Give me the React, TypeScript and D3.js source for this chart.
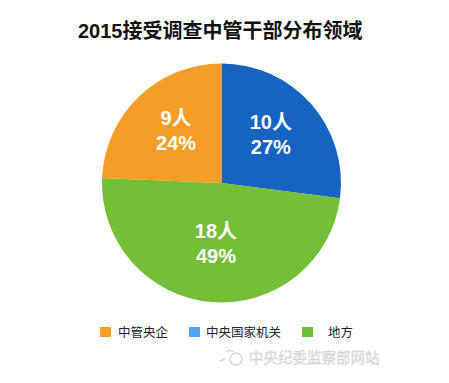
import React from "react";
import * as d3 from "d3";

const categories = ["中央国家机关", "地方", "中管央企"];
const counts = [10, 18, 9];
const percents = ["27%", "49%", "24%"];
const sliceColors = ["#1663C2", "#75BE38", "#F49D27"];
const legendOrder = ["中管央企", "中央国家机关", "地方"];
const legendColors = ["#F49D27", "#4FA6F6", "#6FBF35"];
const title = "2015接受调查中管干部分布领域";
const watermark = "中央纪委监察部网站";

export default function App() {
  const W = 449, H = 383;
  const cx = 221.5, cy = 183, r = 119.5;
  const pie = d3.pie<number>().sort(null).value((d) => d);
  const arcs = pie(counts);
  const arc = d3.arc<d3.PieArcDatum<number>>().innerRadius(0).outerRadius(r);
  const labelArc = d3.arc<d3.PieArcDatum<number>>().innerRadius(r * 0.55).outerRadius(r * 0.55);
  const font = "'Liberation Sans', Arial, 'Noto Sans CJK SC', sans-serif";
  const legendX = [100, 189, 302];
  const legendTextX = [118, 206, 328];
  return (
    <div style={{ position: "absolute", left: 0, top: 0 }}>
      <svg width={W} height={H} style={{ display: "block", background: "#fff" }}>
        <text x={78} y={38} fontFamily={font} fontWeight="bold" fontSize={20} fill="#111">
          {title}
        </text>
        <g transform={`translate(${cx},${cy})`}>
          {arcs.map((a, i) => (
            <path key={i} d={arc(a) || ""} fill={sliceColors[i]} />
          ))}
          {arcs.map((a, i) => {
            const [lx, ly0] = labelArc.centroid(a);
            const ly = ly0 - 5;
            return (
              <g key={"l" + i} fontFamily={font} fontWeight="bold" fontSize={20} fill="#fff" textAnchor="middle">
                <text x={lx} y={ly - 5.3}>{counts[i] + "人"}</text>
                <text x={lx} y={ly + 19.7}>{percents[i]}</text>
              </g>
            );
          })}
        </g>
        {legendOrder.map((name, i) => (
          <g key={"lg" + i}>
            <rect x={legendX[i]} y={327} width={11} height={10} fill={legendColors[i]} />
            <text x={legendTextX[i]} y={336.5} fontFamily={font} fontSize={12.5} fill="#222">
              {name}
            </text>
          </g>
        ))}
        <g opacity={0.6}>
          <g stroke="#bbb" strokeWidth={1.4} fill="none">
            <path d="M226,352 q4,-3 7,0" />
            <circle cx={236} cy={359} r={6} />
            <path d="M219,360 q3,2 6,-2" />
          </g>
          <text x={249} y={363} fontFamily={font} fontSize={14.5} fill="#ccc" stroke="#aaa" strokeWidth={0.3}>
            {watermark}
          </text>
        </g>
      </svg>
    </div>
  );
}
